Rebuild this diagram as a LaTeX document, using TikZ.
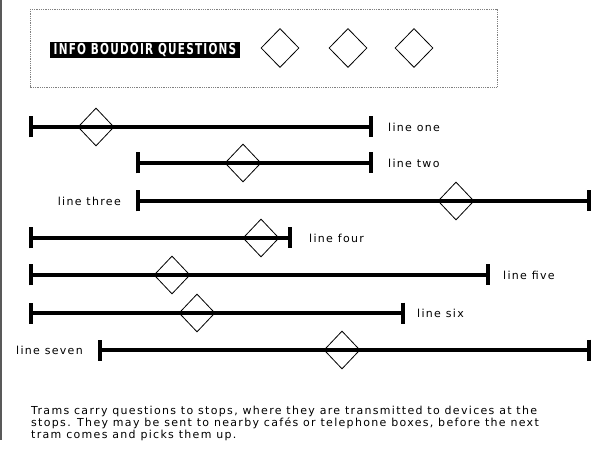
\documentclass[tikz,border=0pt]{standalone}
\usepackage{fontspec}
\setmainfont{DejaVu Sans}[LetterSpace=12]
\newfontfamily\titlefont{DejaVu Sans Bold}[FakeStretch=0.7,LetterSpace=8]
\usetikzlibrary{shapes.geometric,arrows.meta}

\tikzset{
  stop/.style={diamond,draw,line width=0.8pt,minimum width=36pt,minimum height=38pt,inner sep=0pt},
  tramline/.style={line width=4pt,{Bar[width=21pt]}-{Bar[width=21pt]}},
  linelabel/.style={font=\fontsize{11}{12}\selectfont,inner sep=0pt},
}

\begin{document}
\begin{tikzpicture}[x=1pt,y=-1pt]
  \useasboundingbox (0,0) rectangle (592,449);
  \draw[gray!70!black,line width=1.5pt] (0.75,0) -- (0.75,440);
  % title box
  \draw[densely dotted,gray,line width=0.8pt] (30,9) rectangle (497,87);
  \node[fill=black,text=white,font=\titlefont\fontsize{15}{15}\selectfont,
        minimum width=190pt,minimum height=16pt,inner sep=0pt] (title) at (145,50) {INFO BOUDOIR QUESTIONS};
  \foreach \x [count=\i] in {280,348,414}
    \node[stop,minimum width=38pt,minimum height=39pt] (q\i) at (\x,48) {};
  % tram lines: y / start / end / stop / name / side / anchor / shift
  \foreach \y/\a/\b/\d/\name/\side/\anc/\sh [count=\i] in {
      127/29/373/96/one/e/west/15,
      163/136/373/243/two/e/west/15,
      201/136/591/456/three/s/east/-15,
      238/29/292/261/four/e/west/17,
      275/29/490/172/five/e/west/13,
      313/29/405/197/six/e/west/12,
      350/98/591/342/seven/s/east/-15}{
    \coordinate (s\i) at (\a,\y);
    \coordinate (e\i) at (\b,\y);
    \draw[tramline] (s\i) -- (e\i);
    \node[stop] (d\i) at (\d,\y) {};
    \node[linelabel,anchor=\anc] (l\i) at ([xshift=\sh pt]\side\i) {line \name};
  }
  \node[linelabel,anchor=north west,align=left] (note) at (31,406)
    {Trams carry questions to stops, where they are transmitted to devices at the\\
     stops. They may be sent to nearby cafés or telephone boxes, before the next\\
     tram comes and picks them up.};
\end{tikzpicture}
\end{document}
